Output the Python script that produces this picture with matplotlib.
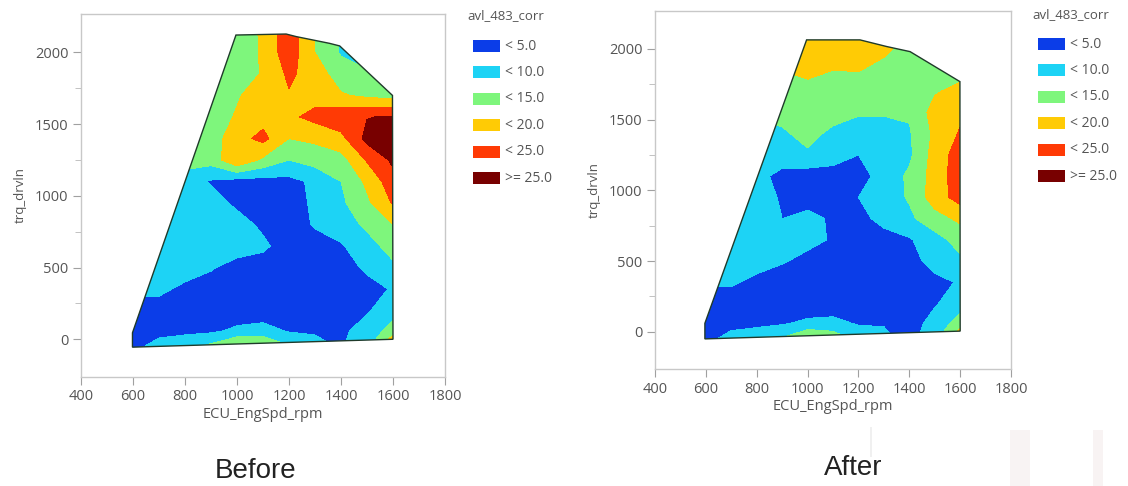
import numpy as np
import matplotlib.pyplot as plt
from matplotlib.patches import Polygon, Rectangle

# grid of the contour data (rows listed from top torque to bottom torque)
rpm = [600, 700, 800, 900, 1000, 1100, 1200, 1300, 1400, 1500, 1600]
trq = [2150, 2000, 1850, 1700, 1550, 1400, 1250, 1100, 950, 800, 650, 500, 350, 200, 60, -60]

before_vals = [
    [12.5, 12.5, 12.5, 12.5, 11, 16, 23, 15, 9.5, 8, 8],
    [12.5, 12.5, 12.5, 12.5, 10, 16, 23, 15, 9.5, 8, 8],
    [12.5, 12.5, 12.5, 12, 12, 15.5, 21, 17.5, 12.5, 10.5, 9],
    [12.5, 12.5, 12.5, 12, 14.5, 17.5, 19.5, 18, 15.5, 14, 13],
    [12.5, 12.5, 12.5, 12.5, 15.5, 18, 19, 21.5, 23.5, 24.8, 25.5],
    [12.5, 12.5, 12.5, 12.5, 18, 21.5, 15, 16, 18.5, 26.5, 29],
    [12, 12, 12, 12, 19.5, 14, 10, 12, 13, 20.5, 26],
    [7.5, 7.5, 7.5, 4.5, 3, 3, 3.5, 6, 10, 16, 23],
    [7.5, 7.5, 7.5, 7, 4, 2.5, 2.5, 6, 9, 14, 20.5],
    [7.5, 7.5, 7.5, 7.5, 7, 4, 2.5, 5.5, 7.5, 11, 15],
    [7.5, 7.5, 7.5, 7.5, 7.5, 6, 2.5, 3, 4.5, 8, 12],
    [7, 7, 7, 5.5, 3, 2.5, 2.5, 2.5, 2.5, 6, 9],
    [6, 6, 4, 2.5, 2, 2, 2, 2, 2, 3, 5.5],
    [3, 3, 2, 2, 2, 2, 2, 2, 2.5, 4.5, 8],
    [3, 3.5, 4, 4, 6, 7, 4.5, 4, 4, 7, 12],
    [4, 7, 8, 12, 17, 16, 11, 8, 4.5, 9, 23],
]

after_vals = [
    [16, 16, 16, 16, 17.5, 17.5, 17, 16, 13, 12.5, 12.5],
    [16, 16, 16, 16, 17.5, 17.5, 17.5, 16, 13, 12.5, 12.5],
    [13, 13, 13, 15, 16.5, 15, 15.2, 13.5, 12.5, 12.5, 13],
    [12.5, 12.5, 12.5, 12.5, 13, 12.5, 12.5, 12.5, 12.5, 14.5, 16.5],
    [11, 11, 11, 12, 12.5, 12.5, 10.5, 10.5, 10.5, 17, 19],
    [8, 8, 8, 9, 12, 8.5, 7.5, 7.5, 9.5, 16, 20.5],
    [8, 8, 8, 7.5, 9, 7, 5, 6, 9, 17, 22.5],
    [7.5, 7.5, 6.5, 3.5, 2.5, 3, 3.5, 6.5, 11, 17, 23],
    [7.5, 7.5, 7, 4.5, 3.5, 3, 5, 7.5, 10.5, 17.5, 22],
    [7, 7, 7.5, 5, 6, 4.5, 3, 7, 9, 13, 16],
    [7, 7.5, 7.5, 7.5, 6.5, 4.5, 2.5, 2.5, 4.5, 8, 12],
    [6, 7, 6.5, 5.5, 3.5, 2.5, 2.5, 2.5, 3, 7, 9],
    [5.5, 5.5, 4, 2, 2, 2, 2, 2, 2.5, 3.5, 5.5],
    [3, 3, 2, 2, 2, 2, 2, 2, 2.5, 4.5, 8],
    [3, 3.5, 4, 4.5, 6, 6.5, 4.5, 4.5, 2.5, 7, 12],
    [4, 7, 8, 11, 17, 14, 9, 7, 3, 9, 22],
]

# outline of the measured operating area
before_edge_rpm = [598, 598, 996, 1189, 1228, 1356, 1395, 1598, 1600]
before_edge_trq = [-55, 45, 2121, 2128, 2110, 2063, 2045, 1700, 0]
after_edge_rpm = [596, 596, 996, 1206, 1311, 1403, 1599, 1600]
after_edge_trq = [-50, 60, 2064, 2064, 2017, 1981, 1769, 5]

levels = [-100, 5, 10, 15, 20, 25, 100]
level_labels = ["< 5.0", "< 10.0", "< 15.0", "< 20.0", "< 25.0", ">= 25.0"]
colors = ["#0b3de8", "#1dd3f5", "#7ef67c", "#ffcb05", "#ff3a05", "#780000"]

plt.rcParams['font.family'] = ['Open Sans', 'DejaVu Sans']

W, H = 1128, 486
fig = plt.figure(figsize=(11.28, 4.86), dpi=100)
ax1 = fig.add_axes([0.0718, 0.2243, 0.3227, 0.747])
ax2 = fig.add_axes([0.5807, 0.2407, 0.3156, 0.7366])


def draw(ax, vals, edge_rpm, edge_trq):
    X, Y = np.meshgrid(rpm, trq[::-1])
    Z = np.array(vals)[::-1]
    cs = ax.contourf(X, Y, Z, levels=levels, colors=colors)
    poly = Polygon(list(zip(edge_rpm, edge_trq)), closed=True, transform=ax.transData,
                   facecolor='none', edgecolor='#1f3a2a', lw=1.0, zorder=3)
    ax.add_patch(poly)
    cs.set_clip_path(poly)
    ax.set_xlim(400, 1800)
    ax.set_ylim(-263, 2268)
    ax.set_xticks(range(400, 1801, 200))
    ax.set_yticks(range(0, 2001, 500))
    ax.set_yticks(range(250, 2001, 500), minor=True)
    ax.tick_params(colors='#a0a0a0', labelcolor='#555555', labelsize=10.5, length=6,
                   width=0.8, pad=3)
    ax.tick_params(which='minor', length=4, colors='#b8b8b8')
    for s in ax.spines.values():
        s.set_color('#c8c8c8')
        s.set_linewidth(1.0)
    ax.set_xlabel("ECU_EngSpd_rpm", fontsize=10.5, color='#555555', labelpad=2)
    ax.set_ylabel("trq_drvln", fontsize=9.5, color='#555555', labelpad=6)


draw(ax1, before_vals, before_edge_rpm, before_edge_trq)
draw(ax2, after_vals, after_edge_rpm, after_edge_trq)


def legend(x0, ytitle, y0, step):
    fig.text(x0 - 6 / W, 1 - ytitle / H, "avl_483_corr", fontsize=9.5, color='#555555',
             ha='left', va='center')
    for i, (c, lab) in enumerate(zip(colors, level_labels)):
        yc = y0 + i * step
        fig.add_artist(Rectangle((x0, 1 - (yc + 6) / H), 27 / W, 12 / H,
                                 transform=fig.transFigure, facecolor=c, edgecolor='none'))
        fig.text(x0 + 32 / W, 1 - yc / H, lab, fontsize=10, color='#555555',
                 ha='left', va='center')


legend(473 / W, 16, 46, 26.4)
legend(1038 / W, 15, 44, 26.4)

fig.text(256 / W, 1 - 471 / H, "Before", fontsize=20, family='Liberation Sans',
         ha='center', va='center', color='#222222')
fig.text(853 / W, 1 - 468 / H, "After", fontsize=20, family='Liberation Sans',
         ha='center', va='center', color='#222222')

# faint marks left in the lower right corner of the screenshot
for x0, w in [(1010, 20), (1093, 10)]:
    fig.add_artist(Rectangle((x0 / W, 0), w / W, 56 / H, transform=fig.transFigure,
                             facecolor='#f8f3f3', edgecolor='none'))
fig.add_artist(Rectangle((870 / W, 29 / H), 1.5 / W, 30 / H, transform=fig.transFigure,
                         facecolor='#f0f0f0', edgecolor='none'))

fig.savefig("out.png", dpi=100)
